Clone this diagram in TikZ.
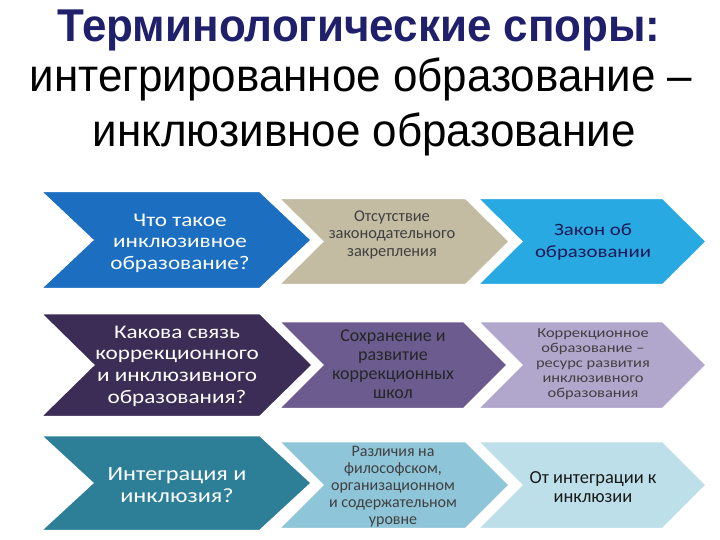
\documentclass[tikz,border=0pt]{standalone}
\usepackage{fontspec}
\setmainfont{Liberation Sans}
\newfontfamily\ttlfont[FakeStretch=0.955]{Liberation Sans}
\newfontfamily\carl{Carlito}
\newfontfamily\carlw[FakeStretch=1.2]{Carlito}
\definecolor{cTitle}{RGB}{31,31,107}
\definecolor{cBlue}{RGB}{28,110,192}
\definecolor{cTan}{RGB}{195,188,163}
\definecolor{cLBlue}{RGB}{41,169,225}
\definecolor{cDPur}{RGB}{59,45,85}
\definecolor{cMPur}{RGB}{108,91,143}
\definecolor{cLav}{RGB}{177,166,204}
\definecolor{cTeal}{RGB}{45,127,152}
\definecolor{cLTeal}{RGB}{143,197,216}
\definecolor{cVLBlue}{RGB}{189,223,233}
\newcommand\chevshape[6]{\path[chev,fill=#1] (#2,#4) -- (#3,#4) -- ({#3+#6},{(#4+#5)/2}) -- (#3,#5) -- (#2,#5) -- ({#2+#6},{(#4+#5)/2}) -- cycle;}
\begin{document}
\begin{tikzpicture}[x=1pt,y=-1pt,
  chev/.style={line width=2.5pt,draw=white,line join=miter},
  ttl/.style={anchor=base,inner sep=0pt,font=\ttlfont\fontsize{46}{50}\selectfont},
  lbl/.style={align=center,inner sep=0pt}]
\useasboundingbox (0,0) rectangle (720,540);
\fill[white] (0,0) rectangle (720,540);
% title
\node[ttl,text=cTitle,font=\ttlfont\fontsize{46}{50}\selectfont\bfseries] (t1) at (359,42) {Терминологические споры:};
\node[ttl] (t2) at (361,92) {интегрированное образование –};
\node[ttl] (t3) at (364,147) {инклюзивное образование};
% chevrons
\chevshape{cVLBlue}{477}{663}{441}{529}{44}
\chevshape{cLTeal}{278}{466}{441}{529}{44}
\chevshape{cTeal}{40}{260}{435}{531}{52}
\chevshape{cLav}{477}{663}{321}{409}{44}
\chevshape{cMPur}{278}{464}{321}{409}{44}
\chevshape{cDPur}{40}{260}{313}{417}{53}
\chevshape{cLBlue}{477}{663}{198}{285}{44}
\chevshape{cTan}{278}{466}{198}{285}{44}
\chevshape{cBlue}{40}{260}{191}{289}{52}
% labels
\node[lbl,text=white,font=\carlw\fontsize{19.3}{21.5}\selectfont] (a1) at (180,243) {Что такое\\инклюзивное\\образование?};
\node[lbl,text=black!75,font=\carl\fontsize{16.4}{17.5}\selectfont] (a2) at (392,235) {Отсутствие\\законодательного\\закрепления};
\node[lbl,text=cTitle!80!black,font=\carlw\fontsize{17.3}{22}\selectfont] (a3) at (593,242) {Закон об\\образовании};
\node[lbl,text=white,font=\carlw\fontsize{19.3}{21.7}\selectfont] (b1) at (177,366) {Какова связь\\коррекционного\\и инклюзивного\\образования?};
\node[lbl,text=black!85,font=\carl\fontsize{18}{19}\selectfont] (b2) at (393,364) {Сохранение и\\развитие\\коррекционных\\школ};
\node[lbl,text=black!75,font=\carlw\fontsize{13.7}{15}\selectfont] (b3) at (593,364) {Коррекционное\\образование –\\ресурс развития\\инклюзивного\\образования};
\node[lbl,text=white,font=\carlw\fontsize{20.2}{22}\selectfont] (c1) at (177,485) {Интеграция и\\инклюзия?};
\node[lbl,text=black!75,font=\carl\fontsize{16}{17}\selectfont] (c2) at (393,487) {Различия на\\философском,\\организационном\\и содержательном\\уровне};
\node[lbl,text=black!90,font=\carl\fontsize{18.4}{18.5}\selectfont] (c3) at (593,487) {От интеграции к\\инклюзии};
\end{tikzpicture}
\end{document}
